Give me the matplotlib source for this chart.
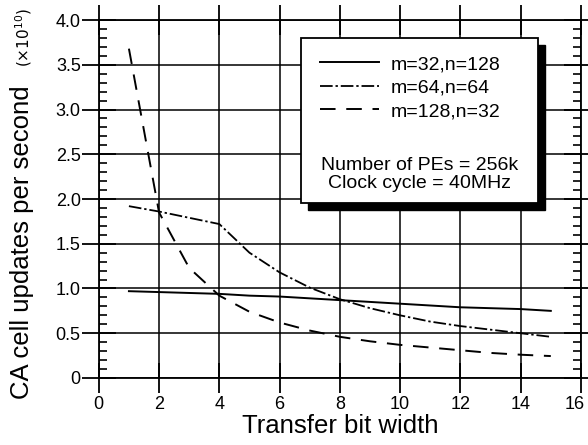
import matplotlib
matplotlib.use("Agg")
import matplotlib.pyplot as plt
from matplotlib.patches import Rectangle
from matplotlib.ticker import MultipleLocator
from matplotlib.transforms import ScaledTranslation

plt.rcParams['font.family'] = ['Liberation Sans', 'DejaVu Sans']

# transfer bit width
bits = [1, 2, 3, 4, 5, 6, 7, 8, 9, 10, 11, 12, 13, 14, 15]

# CA cell updates per second (x10^10)
m32_n128 = [0.97, 0.96, 0.95, 0.94, 0.92, 0.91, 0.89, 0.87, 0.85, 0.83, 0.81, 0.79, 0.78, 0.77, 0.75]
m64_n64 = [1.92, 1.86, 1.79, 1.72, 1.40, 1.18, 1.01, 0.88, 0.78, 0.70, 0.63, 0.58, 0.54, 0.50, 0.46]
m128_n32 = [3.68, 1.85, 1.23, 0.92, 0.74, 0.62, 0.53, 0.46, 0.41, 0.37, 0.34, 0.31, 0.28, 0.26, 0.245]

labels = ['m=32,n=128', 'm=64,n=64', 'm=128,n=32']
xticks = [0, 2, 4, 6, 8, 10, 12, 14, 16]
yticks = [0, 0.5, 1.0, 1.5, 2.0, 2.5, 3.0, 3.5, 4.0]
yticklabels = ['0', '0.5', '1.0', '1.5', '2.0', '2.5', '3.0', '3.5', '4.0']

fig = plt.figure(figsize=(5.88, 4.45), dpi=100)
ax = fig.add_axes([0.168, 0.1506, 0.820, 0.8044])

ax.plot(bits, m32_n128, color='k', lw=1.4, ls='-', label=labels[0])
ax.plot(bits, m64_n64, color='k', lw=1.3, ls=(0, (7, 1.6, 1.3, 1.6)), label=labels[1])
ax.plot(bits, m128_n32, color='k', lw=1.4, ls=(0, (8, 5.5)), label=labels[2])

ax.set_xlim(0, 16)
ax.set_ylim(0, 4.0)
ax.set_xticks(xticks)
ax.set_yticks(yticks)
ax.set_yticklabels(yticklabels)
ax.yaxis.set_minor_locator(MultipleLocator(0.1))
ax.grid(True, which='major', color='k', lw=1.1)

for s in ax.spines.values():
    s.set_linewidth(1.3)

ax.tick_params(axis='x', which='major', top=True, bottom=True, direction='inout',
               length=22, width=1.3, labelsize=13, pad=2)
ax.tick_params(axis='y', which='major', left=True, right=True, direction='inout',
               length=24, width=1.3, labelsize=13, pad=1)
ax.tick_params(axis='y', which='minor', left=True, right=True, direction='in',
               length=6, width=1.2)

# last x label sits at the right edge, nudge it left a little
fig.canvas.draw()
last = ax.get_xticklabels()[-1]
last.set_transform(last.get_transform() + ScaledTranslation(-6 / 100, 0, fig.dpi_scale_trans))

ax.set_xlabel('Transfer bit width', fontsize=18.5, labelpad=1)
fig.text(0.038, 0.456, 'CA cell updates per second', rotation=90, fontsize=18.5,
         ha='center', va='center')
fig.text(0.040, 0.982, r'$(\times10^{10})$', rotation=90, fontsize=11,
         ha='center', va='top')

# legend box with solid black shadow
x0, y0, w, h = 301 / 588, 1 - 203 / 445, 237 / 588, 165 / 445
fig.patches.append(Rectangle((x0 + 7 / 588, y0 - 7 / 445), w, h, transform=fig.transFigure,
                             facecolor='k', edgecolor='k', zorder=5))
fig.patches.append(Rectangle((x0, y0), w, h, transform=fig.transFigure,
                             facecolor='white', edgecolor='k', lw=1.3, zorder=6))
leg = fig.legend(loc='upper left', bbox_to_anchor=(x0 + 0.0, y0 + h + 0.004),
                 frameon=False, fontsize=14, handlelength=3.0, handletextpad=0.6,
                 labelspacing=0.3, borderaxespad=0.6)
leg.set_zorder(7)
fig.text(x0 + w / 2, 1 - 165 / 445, 'Number of PEs = 256k', fontsize=14,
         ha='center', va='center', zorder=7)
fig.text(x0 + w / 2, 1 - 183 / 445, 'Clock cycle = 40MHz', fontsize=14,
         ha='center', va='center', zorder=7)

fig.savefig('out.png', dpi=100)
